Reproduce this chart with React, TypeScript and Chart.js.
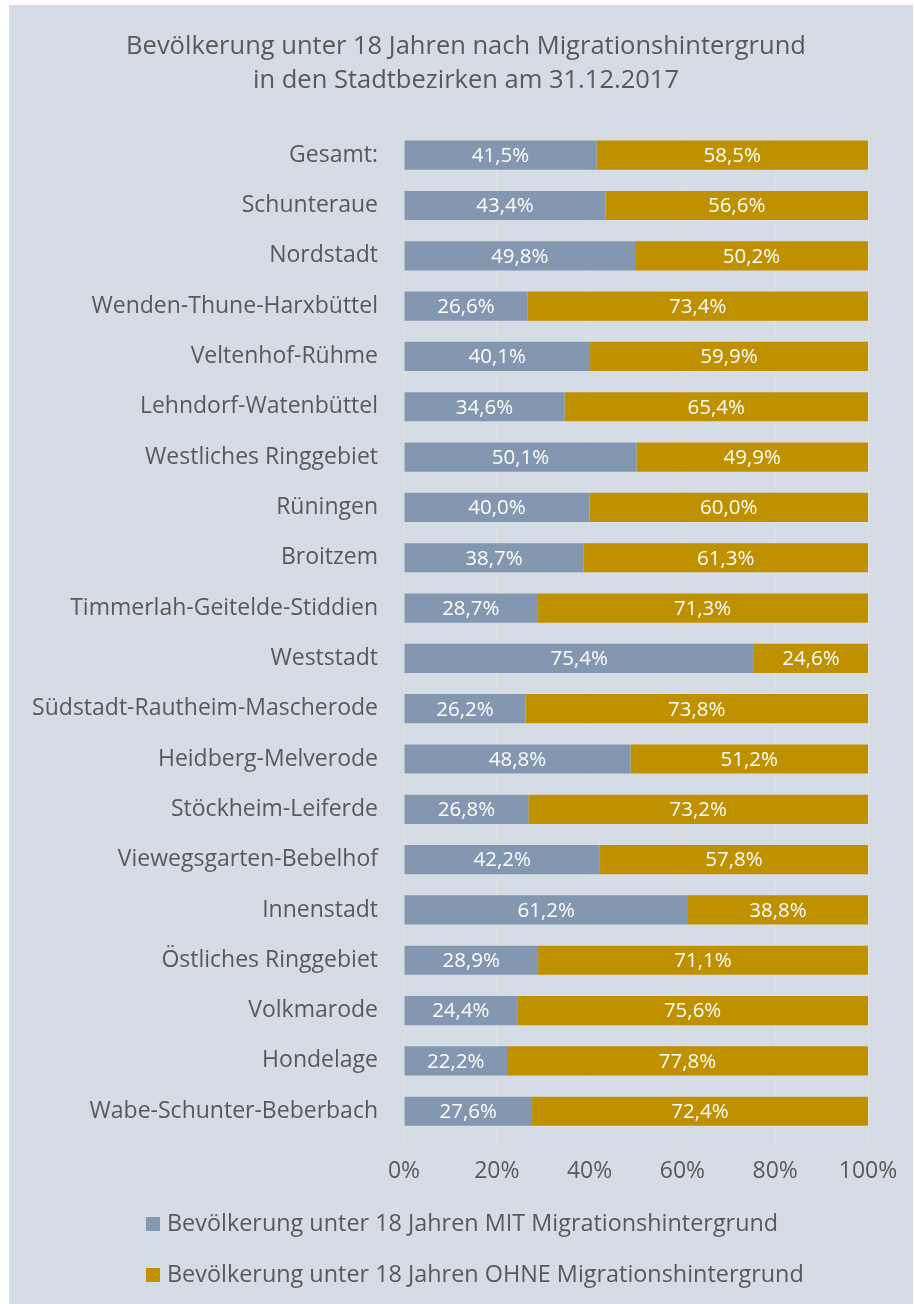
import React, { useEffect, useRef } from "react";
import { Chart, registerables } from "chart.js";

Chart.register(...registerables);

const categories = [
  "Gesamt:",
  "Schunteraue",
  "Nordstadt",
  "Wenden-Thune-Harxbüttel",
  "Veltenhof-Rühme",
  "Lehndorf-Watenbüttel",
  "Westliches Ringgebiet",
  "Rüningen",
  "Broitzem",
  "Timmerlah-Geitelde-Stiddien",
  "Weststadt",
  "Südstadt-Rautheim-Mascherode",
  "Heidberg-Melverode",
  "Stöckheim-Leiferde",
  "Viewegsgarten-Bebelhof",
  "Innenstadt",
  "Östliches Ringgebiet",
  "Volkmarode",
  "Hondelage",
  "Wabe-Schunter-Beberbach",
];

const mitValues = [41.5, 43.4, 49.8, 26.6, 40.1, 34.6, 50.1, 40.0, 38.7, 28.7, 75.4, 26.2, 48.8, 26.8, 42.2, 61.2, 28.9, 24.4, 22.2, 27.6];
const ohneValues = [58.5, 56.6, 50.2, 73.4, 59.9, 65.4, 49.9, 60.0, 61.3, 71.3, 24.6, 73.8, 51.2, 73.2, 57.8, 38.8, 71.1, 75.6, 77.8, 72.4];

const seriesLabels = [
  "Bevölkerung unter 18 Jahren MIT Migrationshintergrund",
  "Bevölkerung unter 18 Jahren OHNE Migrationshintergrund",
];
const titleLines = [
  "Bevölkerung unter 18 Jahren nach Migrationshintergrund",
  "in den Stadtbezirken am 31.12.2017",
];
const xTicks = [0, 20, 40, 60, 80, 100];

const FONT = "'Open Sans', sans-serif";
const TEXT = "#595959";
const BG = "#D6DCE5";
const BLUE = "#8497B0";
const GOLD = "#BF9000";
const GRID = "#E0E0DC";

const bgPlugin = {
  id: "bgPlugin",
  beforeDraw(chart: any) {
    const { ctx, width, height } = chart;
    ctx.save();
    ctx.fillStyle = "#ffffff";
    ctx.fillRect(0, 0, width, height);
    ctx.fillStyle = BG;
    ctx.fillRect(9, 5, 904, height - 5);
    ctx.restore();
  },
};

const titlePlugin = {
  id: "titlePlugin",
  afterDraw(chart: any) {
    const { ctx } = chart;
    ctx.save();
    ctx.font = `25.5px ${FONT}`;
    ctx.fillStyle = TEXT;
    ctx.textAlign = "center";
    ctx.textBaseline = "middle";
    ctx.fillText(titleLines[0], 466, 47);
    ctx.fillText(titleLines[1], 466, 81);
    ctx.restore();
  },
};

const labelPlugin = {
  id: "labelPlugin",
  afterDatasetsDraw(chart: any) {
    const { ctx } = chart;
    ctx.save();
    ctx.font = `20.5px ${FONT}`;
    ctx.fillStyle = "#ffffff";
    ctx.textAlign = "center";
    ctx.textBaseline = "middle";
    chart.data.datasets.forEach((ds: any, di: number) => {
      const meta = chart.getDatasetMeta(di);
      meta.data.forEach((el: any, i: number) => {
        const v = ds.data[i];
        const x = (el.x + el.base) / 2;
        ctx.fillText(v.toFixed(1).replace(".", ",") + "%", x, el.y + 1);
      });
    });
    ctx.restore();
  },
};

const legendPlugin = {
  id: "customLegend",
  afterDraw(chart: any) {
    const { ctx } = chart;
    ctx.save();
    ctx.font = `23.4px ${FONT}`;
    ctx.textBaseline = "middle";
    ctx.textAlign = "left";
    const ys = [1224, 1275];
    chart.data.datasets.forEach((ds: any, i: number) => {
      ctx.fillStyle = ds.backgroundColor;
      ctx.fillRect(146, ys[i] - 7, 14, 14);
      ctx.fillStyle = TEXT;
      ctx.fillText(ds.label, 167, ys[i]);
    });
    ctx.restore();
  },
};

export default function App() {
  const ref = useRef<HTMLCanvasElement>(null);
  useEffect(() => {
    document.body.style.margin = "0";
    const chart = new Chart(ref.current!, {
      type: "bar",
      data: {
        labels: categories,
        datasets: [
          { label: seriesLabels[0], data: mitValues, backgroundColor: BLUE, barPercentage: 0.58, categoryPercentage: 1 },
          { label: seriesLabels[1], data: ohneValues, backgroundColor: GOLD, barPercentage: 0.58, categoryPercentage: 1 },
        ],
      },
      options: {
        indexAxis: "y",
        animation: false,
        responsive: false,
        maintainAspectRatio: false,
        layout: { padding: { left: 0, right: 47, top: 130, bottom: 106 } },
        plugins: {
          legend: { display: false },
          tooltip: { enabled: false },
          title: { display: false },
        },
        scales: {
          x: {
            stacked: true,
            min: 0,
            max: 100,
            afterBuildTicks: (scale: any) => {
              scale.ticks = xTicks.map((v) => ({ value: v }));
            },
            ticks: {
              callback: (v: any) => v + "%",
              color: TEXT,
              font: { family: FONT, size: 23 },
              padding: 13,
              maxRotation: 0,
            },
            grid: { color: GRID, tickLength: 8, drawTicks: true },
            border: { display: false },
          },
          y: {
            stacked: true,
            afterFit: (scale: any) => {
              scale.width = 404;
            },
            ticks: {
              color: TEXT,
              font: { family: FONT, size: 23 },
              padding: 19,
              autoSkip: false,
            },
            grid: { drawOnChartArea: false, drawTicks: true, tickLength: 7, color: GRID, offset: true },
            border: { display: true, color: GRID },
          },
        },
      },
      plugins: [bgPlugin, labelPlugin, legendPlugin, titlePlugin],
    } as any);
    return () => chart.destroy();
  }, []);
  return <canvas ref={ref} width={915} height={1304} style={{ display: "block" }} />;
}
